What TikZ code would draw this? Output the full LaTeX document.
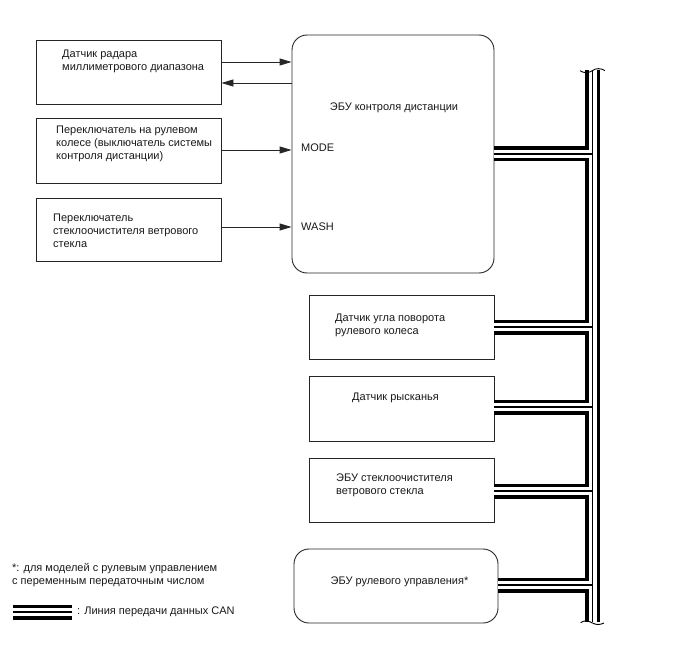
\documentclass[tikz,border=0pt]{standalone}
\usepackage{fontspec}
\setmainfont{Liberation Sans}
\usetikzlibrary{arrows.meta}
\begin{document}
\begin{tikzpicture}[x=1pt,y=-1pt,
  box/.style={draw=black!85, line width=0.9pt, rectangle, inner sep=0pt},
  rbox/.style={box, rounded corners=15pt},
  lbl/.style={inner sep=0pt, font=\fontsize{11}{13}\selectfont, align=left, text=black!90},
  arr/.style={draw=black!85, line width=0.9pt, -{Triangle[length=12pt,width=7pt]}},
  brk/.style={draw=black, line width=0.9pt}
]
\useasboundingbox (0,0) rectangle (688,658);

% boxes
\node[box, minimum width=185pt, minimum height=64pt] (radar) at (128.5,72) {};
\node[box, minimum width=185pt, minimum height=65pt] (sw) at (128.5,150.5) {};
\node[box, minimum width=185pt, minimum height=63pt] (wsw) at (128.5,229.5) {};
\node[rbox, minimum width=202pt, minimum height=238pt] (ecu) at (393,154) {};
\node[box, minimum width=185pt, minimum height=64pt] (angle) at (401.5,327) {};
\node[box, minimum width=185pt, minimum height=65pt] (yaw) at (401.5,408.5) {};
\node[box, minimum width=185pt, minimum height=64pt] (wecu) at (401.5,490) {};
\node[rbox, minimum width=204pt, minimum height=74pt] (steer) at (396,586) {};

% texts
\node[lbl, anchor=west] (tradar) at (62,61) {Датчик радара\\миллиметрового диапазона};
\node[lbl, anchor=west] (tsw) at (56,143.5) {Переключатель на рулевом\\колесе (выключатель системы\\контроля дистанции)};
\node[lbl, anchor=west] (twsw) at (53,231) {Переключатель\\стеклоочистителя ветрового\\стекла};
\node[lbl] (tecu) at (394,108) {ЭБУ контроля дистанции};
\node[lbl, anchor=west] (tmode) at (301,148) {MODE};
\node[lbl, anchor=west] (twash) at (301,227) {WASH};
\node[lbl, anchor=west] (tangle) at (335,325) {Датчик угла поворота\\рулевого колеса};
\node[lbl, anchor=west] (tyaw) at (352,398) {Датчик рысканья};
\node[lbl, anchor=west] (twecu) at (336,485) {ЭБУ стеклоочистителя\\ветрового стекла};
\node[lbl] (tsteer) at (399.5,582) {ЭБУ рулевого управления*};
\node[lbl, anchor=west] (tnote) at (12,575.5) {*: для моделей с рулевым управлением\\с переменным передаточным числом};
\node[lbl, anchor=west] (tlegend) at (77,612) {: Линия передачи данных CAN};

% arrows
\coordinate (r1) at ([yshift=10pt]radar.east);
\coordinate (r2) at ([yshift=-11pt]radar.east);
\coordinate (s1) at ([yshift=0.5pt]sw.east);
\coordinate (w1) at ([yshift=2.5pt]wsw.east);
\draw[arr] (r1) -- (r1 -| ecu.west);
\draw[arr] (r2 -| ecu.west) -- (r2);
\draw[arr] (s1) -- (s1 -| ecu.west);
\draw[arr] (w1) -- (w1 -| ecu.west);

% CAN bus
\coordinate (bustop) at (592.5,70);
\coordinate (busbot) at (592.5,622);
\coordinate (lega) at (13,612);
\coordinate (legb) at (72,612);
\foreach \w/\c in {15/black, 8/white, 1.1/black} {
  \draw[line width=\w pt, \c]
    (bustop) -- (busbot)
    (ecu.east) -- (ecu.east -| bustop)
    (angle.east) -- (angle.east -| bustop)
    ([yshift=1.5pt]yaw.east) -- ([yshift=1.5pt]yaw.east -| bustop)
    ([yshift=-1pt]wecu.east) -- ([yshift=-1pt]wecu.east -| bustop)
    ([yshift=1pt]steer.east) -- ([yshift=1pt]steer.east -| bustop)
    (lega) -- (legb);
}
% break marks
\draw[brk] (580,70.7) .. controls (584,73.5) and (589,73) .. (592.5,70.5)
  .. controls (596,68) and (601,68) .. (605,70.7);
\draw[brk] (580.7,622.7) .. controls (584,620) and (588,620.5) .. (592.5,623)
  .. controls (596,625) and (600,625) .. (604,623);
\end{tikzpicture}
\end{document}
